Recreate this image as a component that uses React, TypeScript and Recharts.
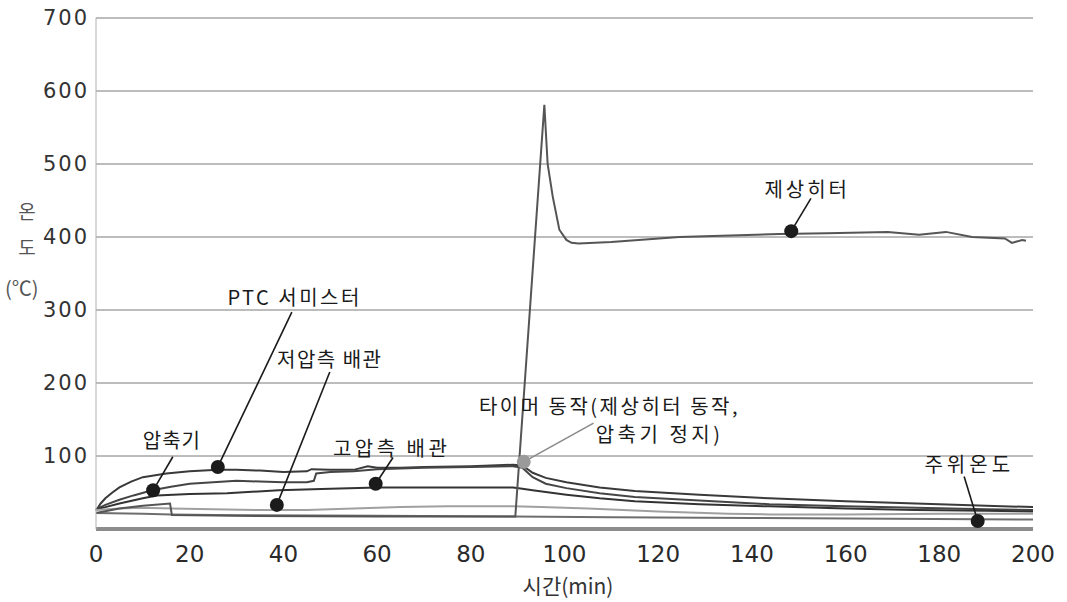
import { LineChart, Line, XAxis, YAxis, CartesianGrid, ReferenceDot, ReferenceLine } from 'recharts';

// minutes / °C
const ptcMin = [0, 1, 2, 3.5, 5, 7.5, 10, 15, 20, 26, 30, 35, 40, 45, 46, 50, 55, 58, 60, 65, 70, 80, 89, 91, 93.2, 96, 100.4, 107.5, 115, 128.8, 143.7, 160, 175, 190, 200];
const ptcTemp = [25, 35, 42, 50, 57, 65, 71, 76, 79, 81, 81, 80, 78, 79, 82, 81, 81, 86, 84, 84, 85, 86, 88, 87, 77, 70, 64, 57, 52, 47, 42, 38, 35, 32, 30];

const compMin = [0, 2, 5, 8, 12, 16, 20, 25, 30, 35, 40, 45, 46.5, 47, 50, 55, 60, 70, 80, 89, 91, 93.2, 96, 100.4, 107.5, 115, 128.8, 143.7, 160, 175, 190, 200];
const compTemp = [27, 33, 40, 46, 53, 58, 62, 64, 66, 65, 64, 64, 66, 76, 78, 79, 82, 84, 85, 86, 84, 71, 62, 56, 49, 44, 39, 34, 31, 29, 27, 26];

const highMin = [0, 2, 5, 10, 13, 20, 28, 39, 50, 60, 70, 80, 89, 91, 93.2, 100.4, 107.5, 115, 128.8, 143.7, 160, 175, 190, 200];
const highTemp = [27, 30, 35, 42, 46, 48, 49, 53, 55, 57, 57, 57, 57, 55, 53, 47, 42, 38, 34, 31, 28, 26, 25, 24];

const lowMin = [0, 5, 10, 16, 25, 35, 45, 55, 65, 75, 89, 95, 105, 120, 135, 143.7, 160, 180, 200];
const lowTemp = [26, 28, 29, 28, 27, 26, 26, 28, 30, 31, 31, 30, 28, 24, 21, 20, 20, 21, 21];

const ambMin = [0, 10, 16, 30, 60, 89, 110, 140, 170, 200];
const ambTemp = [22, 21, 20, 19, 18, 17, 16, 15, 14, 13];

const heaterMin = [0, 5, 10, 15.8, 16.2, 30, 60, 89.5, 95.7, 96.4, 97.5, 98.9, 100.4, 101.5, 103, 110, 124.5, 145.8, 156, 169, 175.7, 181.4, 187, 194, 195.5, 197.7, 198.5];
const heaterTemp = [22, 28, 32, 35, 19, 18, 17, 17, 581, 500, 455, 410, 396, 392, 391, 393, 400, 404, 405, 407, 403, 407, 400, 398, 392, 396, 395];

const xTicks = [0, 20, 40, 60, 80, 100, 120, 140, 160, 180, 200];
const yTicks = [100, 200, 300, 400, 500, 600, 700];

// callouts: text anchor, leader line from -> to, marker
const notes = [
  { text: 'PTC 서미스터', tx: 42.4, ty: 319, sp: 2.5, from: [41.8, 297], to: [26, 85], grey: false },
  { text: '저압측 배관', tx: 49.9, ty: 234, sp: 1.5, from: [49.9, 215], to: [38.6, 33], grey: false },
  { text: '압축기', tx: 16.2, ty: 122, sp: 1, from: [16.4, 99], to: [12.2, 53], grey: false },
  { text: '고압측 배관', tx: 63.1, ty: 112, sp: 3.5, from: [63.4, 98], to: [59.7, 62], grey: false },
  { text: '제상히터', tx: 151.8, ty: 467, sp: 3, from: [152.6, 453], to: [148.4, 408], grey: false },
  { text: '주위온도', tx: 186.4, ty: 90, sp: 4, from: [185.3, 72], to: [188.2, 11], grey: false },
  { text: '', tx: 0, ty: 0, sp: 0, from: [106.2, 145], to: [91.3, 92], grey: true },
];
const timerLines = [
  { text: '타이머 동작(제상히터 동작,', tx: 109.6, ty: 169, sp: 2.5 },
  { text: '압축기 정지)', tx: 120.3, ty: 131, sp: 3.5 },
];

const pts = (xs: number[], ys: number[]) => xs.map((m, i) => ({ min: m, temp: ys[i] }));

const korean = '"Noto Sans CJK KR", "Noto Sans", sans-serif';
const digits = '"DejaVu Sans", sans-serif';

function NoteText({ cx, cy, text, sp }: any) {
  return (
    <text x={cx} y={cy} textAnchor="middle" dominantBaseline="central" fill="#1a1a1a" fontSize={20} fontFamily={korean} letterSpacing={sp}>
      {text}
    </text>
  );
}

export default function App() {
  const series = [
    { key: 'ptc', d: pts(ptcMin, ptcTemp), c: '#3a3a3a' },
    { key: 'comp', d: pts(compMin, compTemp), c: '#454545' },
    { key: 'high', d: pts(highMin, highTemp), c: '#333333' },
    { key: 'low', d: pts(lowMin, lowTemp), c: '#a0a0a0' },
    { key: 'amb', d: pts(ambMin, ambTemp), c: '#6e6e6e' },
    { key: 'heater', d: pts(heaterMin, heaterTemp), c: '#555555' },
  ];

  return (
    <div style={{ position: 'absolute', left: 0, top: 0, width: 1067, height: 602, background: '#fff' }}>
      <LineChart width={1067} height={602} margin={{ top: 18, right: 34, bottom: 28, left: 20 }}>
        <CartesianGrid vertical={false} stroke="#7a7a7a" strokeWidth={1} />
        <XAxis
          type="number"
          dataKey="min"
          domain={[0, 200]}
          ticks={xTicks}
          allowDuplicatedCategory={false}
          height={45}
          tickLine={false}
          tickSize={8}
          tickMargin={9}
          axisLine={{ stroke: '#8c8c8c', strokeWidth: 4 }}
          tick={{ fill: '#2a2a2a', fontSize: 23, fontFamily: digits }}
        />
        <YAxis
          type="number"
          domain={[0, 700]}
          ticks={yTicks}
          width={76}
          tickLine={false}
          tickSize={4}
          tickMargin={3}
          axisLine={{ stroke: '#b0b0b0', strokeWidth: 1 }}
          tick={{ fill: '#333', fontSize: 21, fontFamily: digits, letterSpacing: 2 }}
        />
        {series.map((s) => (
          <Line
            key={s.key}
            data={s.d}
            dataKey="temp"
            type="linear"
            stroke={s.c}
            strokeWidth={2}
            dot={false}
            isAnimationActive={false}
          />
        ))}
        {notes.map((n, i) => (
          <ReferenceLine
            key={'l' + i}
            segment={[{ x: n.from[0], y: n.from[1] }, { x: n.to[0], y: n.to[1] }]}
            stroke={n.grey ? '#8a8a8a' : '#1a1a1a'}
            strokeWidth={1.6}
          />
        ))}
        {notes.map((n, i) => (
          <ReferenceDot key={'d' + i} x={n.to[0]} y={n.to[1]} r={7} fill={n.grey ? '#9a9a9a' : '#1b1b1b'} stroke="none" />
        ))}
        {notes.filter((n) => n.text).map((n, i) => (
          <ReferenceDot key={'t' + i} x={n.tx} y={n.ty} r={0} shape={(p: any) => <NoteText {...p} text={n.text} sp={n.sp} />} />
        ))}
        {timerLines.map((n, i) => (
          <ReferenceDot key={'tm' + i} x={n.tx} y={n.ty} r={0} shape={(p: any) => <NoteText {...p} text={n.text} sp={n.sp} />} />
        ))}
      </LineChart>
      <div style={{ position: 'absolute', left: 15, top: 199, width: 24, fontSize: 19, color: '#555', fontFamily: korean, lineHeight: '24px', textAlign: 'center' }}>온</div>
      <div style={{ position: 'absolute', left: 15, top: 235, width: 24, fontSize: 19, color: '#555', fontFamily: korean, lineHeight: '24px', textAlign: 'center' }}>도</div>
      <div style={{ position: 'absolute', left: 5, top: 275, fontSize: 20, color: '#555', fontFamily: korean, lineHeight: '26px' }}>(℃)</div>
      <div style={{ position: 'absolute', left: 0, width: 1136, top: 574, textAlign: 'center', fontSize: 21, color: '#333', fontFamily: korean, lineHeight: '22px' }}>
        시간(min)
      </div>
    </div>
  );
}
